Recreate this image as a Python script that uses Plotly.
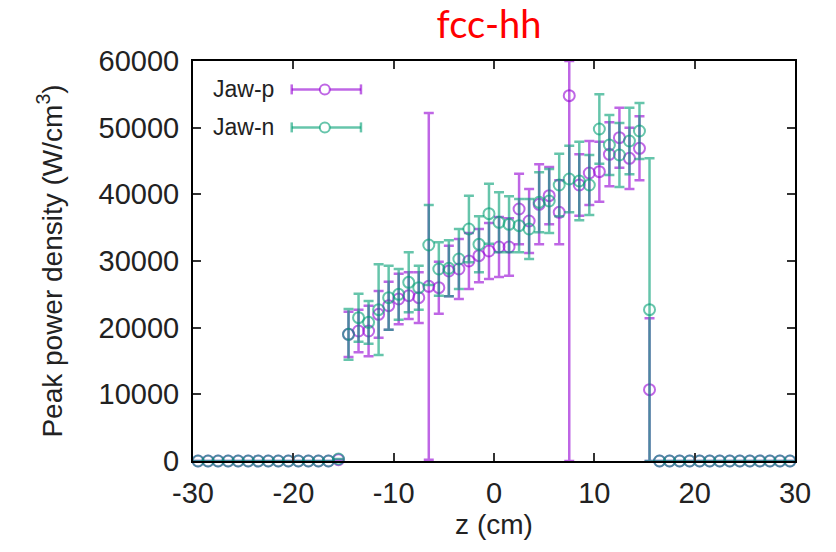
import plotly.graph_objects as go

# ---------------- data ----------------
z_left = [-29.5, -28.5, -27.5, -26.5, -25.5, -24.5, -23.5, -22.5, -21.5, -20.5,
          -19.5, -18.5, -17.5, -16.5, -15.5]
z_mid = [-14.5, -13.5, -12.5, -11.5, -10.5, -9.5, -8.5, -7.5, -6.5, -5.5,
         -4.5, -3.5, -2.5, -1.5, -0.5, 0.5, 1.5, 2.5, 3.5, 4.5,
         5.5, 6.5, 7.5, 8.5, 9.5, 10.5, 11.5, 12.5, 13.5, 14.5, 15.5]
z_right = [16.5, 17.5, 18.5, 19.5, 20.5, 21.5, 22.5, 23.5, 24.5, 25.5,
           26.5, 27.5, 28.5, 29.5]

left_p = [0]*14 + [200]
left_n = [0]*14 + [300]
right_p = [0]*14
right_n = [0]*14

mid_p = [19000, 19500, 19500, 22000, 23300, 24300, 24800, 24500, 26200, 26000,
         28500, 28800, 30000, 30800, 31500, 32100, 32100, 37800, 36000, 38500,
         39800, 37300, 54800, 41400, 43200, 43400, 46000, 48500, 45400, 46900, 10700]
mid_p_err = [3400, 3200, 3800, 3500, 3600, 3800, 3500, 3800, 26000, 3900,
             3800, 4500, 4200, 4000, 4200, 4500, 4300, 5300, 4800, 6000,
             4300, 4800, 54800, 4600, 4800, 4500, 4800, 4500, 4600, 4800, 10700]

mid_n = [19000, 21500, 20800, 22700, 24500, 25000, 26800, 26000, 32400, 28800,
         28900, 30300, 34800, 32500, 37100, 35800, 35500, 35300, 34800, 38800,
         39000, 41400, 42300, 42000, 41400, 49800, 47400, 45900, 48000, 49500, 22700]
mid_n_err = [3800, 3600, 3200, 6800, 4800, 3800, 4500, 3300, 6000, 4000,
             4200, 4500, 5000, 4200, 4500, 4500, 4200, 4000, 4500, 4500,
             4800, 4700, 5000, 5900, 4500, 5200, 4500, 4800, 5000, 4200, 22700]

y_ticks = [0, 10000, 20000, 30000, 40000, 50000, 60000]
x_ticks = [-30, -20, -10, 0, 10, 20, 30]
Y_MAX = 60000

series_names = ["Jaw-p", "Jaw-n"]
colors = ["rgba(148,0,211,0.6)", "rgba(0,158,115,0.6)"]

# ---------------- build ----------------
def assemble(left, mid, right):
    return left + mid + right

z_all = z_left + z_mid + z_right
p_all = assemble(left_p, mid_p, right_p)
n_all = assemble(left_n, mid_n, right_n)
p_err = assemble([0]*len(left_p), mid_p_err, [0]*len(right_p))
n_err = assemble([0]*len(left_n), mid_n_err, [0]*len(right_n))

def clip_plus(vals, errs):
    return [min(e, Y_MAX - v) for v, e in zip(vals, errs)]

fig = go.Figure()
for name, vals, errs, col in [(series_names[0], p_all, p_err, colors[0]),
                              (series_names[1], n_all, n_err, colors[1])]:
    fig.add_trace(go.Scatter(
        x=z_all, y=vals, mode="markers", name=name, showlegend=False,
        cliponaxis=False,
        marker=dict(symbol="circle-open", size=11, color=col,
                    line=dict(width=2, color=col)),
        error_y=dict(type="data", symmetric=False,
                     array=clip_plus(vals, errs), arrayminus=errs,
                     color=col, thickness=2.5, width=5),
    ))

axis_common = dict(showline=True, linecolor="black", linewidth=2, mirror="allticks",
                   ticks="inside", ticklen=8, tickwidth=1.5, tickcolor="#333",
                   showgrid=False, zeroline=False,
                   tickfont=dict(family="Liberation Sans", size=29, color="#222"))

fig.update_layout(
    width=836, height=552,
    margin=dict(l=193, r=41, t=61, b=91),
    plot_bgcolor="white", paper_bgcolor="white",
    title=dict(text="fcc-hh", x=0.585, xanchor="center", y=0.955, yanchor="middle",
               pad=dict(t=0, b=0),
               font=dict(family="Lato", size=38, color="#ff0000")),
    xaxis=dict(range=[-30, 30], tickvals=x_ticks, ticktext=[str(v) for v in x_ticks],
               ticklabelstandoff=5,
               title=dict(text="z (cm)", standoff=6,
                          font=dict(family="Liberation Sans", size=28, color="#222")),
               **axis_common),
    yaxis=dict(range=[0, 60000], tickvals=y_ticks, ticktext=[str(v) for v in y_ticks],
               ticklabelstandoff=6,
               title=dict(text="Peak power density (W/cm<sup>3</sup>)", standoff=28,
                          font=dict(family="Liberation Sans", size=28, color="#222")),
               **axis_common),
)

# ---------- gnuplot-style key (text left, sample right) ----------
key_rows = [0.929, 0.834]
x_text = 0.138
x0, x1, xc = 0.164, 0.279, 0.219
for name, col, yy in zip(series_names, colors, key_rows):
    fig.add_annotation(x=x_text, y=yy, xref="paper", yref="paper", text=name,
                       showarrow=False, xanchor="right", yanchor="middle",
                       font=dict(family="Liberation Sans", size=23, color="#222"))
    fig.add_shape(type="line", xref="paper", yref="paper", x0=x0, x1=x1, y0=yy, y1=yy,
                  line=dict(color=col, width=2.5))
    for xe in (x0, x1):
        fig.add_shape(type="line", xref="paper", yref="paper", x0=xe, x1=xe,
                      y0=yy - 0.0125, y1=yy + 0.0125, line=dict(color=col, width=2.5))
    fig.add_shape(type="circle", xref="paper", yref="paper", xsizemode="pixel",
                  ysizemode="pixel", xanchor=xc, yanchor=yy, x0=-5, x1=5, y0=-5, y1=5,
                  line=dict(color=col, width=2), fillcolor="white")

fig.write_html("out.html")
